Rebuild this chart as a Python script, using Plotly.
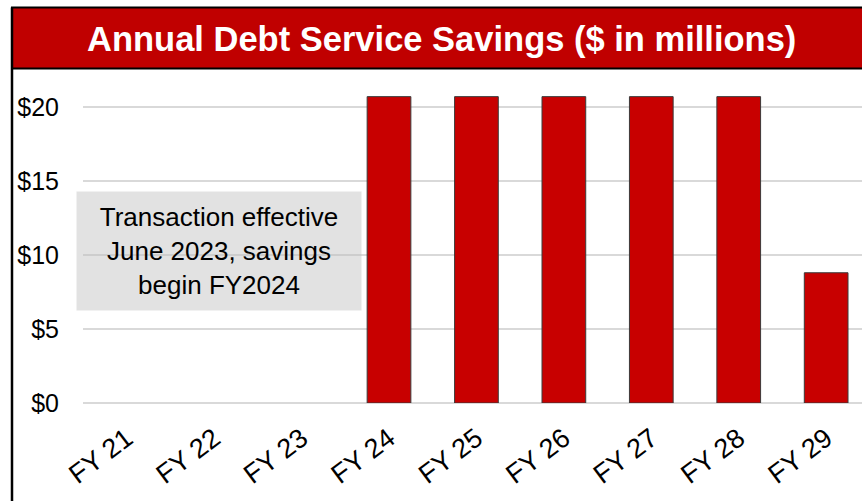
import plotly.graph_objects as go

categories = ["FY 21", "FY 22", "FY 23", "FY 24", "FY 25", "FY 26", "FY 27", "FY 28", "FY 29"]
savings = [0, 0, 0, 20.7, 20.7, 20.7, 20.7, 20.7, 8.8]
y_ticks = [0, 5, 10, 15, 20]
y_tick_labels = ["$0", "$5", "$10", "$15", "$20"]
title_text = "Annual Debt Service Savings ($ in millions)"
note_text = "Transaction effective<br>June 2023, savings<br>begin FY2024"

W, H = 862, 501
ML, MR, MT, MB = 83, 0, 75, 98
PW = W - ML - MR
PH = H - MT - MB


def px(x):
    return (x - ML) / PW


def py(y):
    return (H - MB - y) / PH


line_widths = [1 if v > 0 else 0 for v in savings]

fig = go.Figure()
fig.add_trace(go.Bar(
    x=categories, y=savings, width=0.5,
    marker=dict(color="#C80000", line=dict(color="#3a3a3a", width=line_widths)),
    hoverinfo="x+y",
))

fig.update_layout(
    width=W, height=H,
    margin=dict(l=ML, r=MR, t=MT, b=MB),
    paper_bgcolor="white", plot_bgcolor="white",
    showlegend=False,
    font=dict(family="Liberation Sans, Arial, sans-serif", color="black"),
)
fig.update_xaxes(
    range=[-0.5, 8.41], showgrid=False, zeroline=False, showline=False,
    tickangle=-37, tickfont=dict(size=27), ticks="outside", ticklen=8,
    tickcolor="rgba(0,0,0,0)",
)
fig.update_yaxes(
    range=[0, PH / 14.8], tickvals=y_ticks, ticktext=y_tick_labels,
    showgrid=True, gridcolor="#D9D9D9", gridwidth=1.5,
    zeroline=True, zerolinecolor="#D9D9D9", zerolinewidth=1.5,
    showline=False, tickfont=dict(size=25), ticks="outside", ticklen=18,
    tickcolor="rgba(0,0,0,0)",
)

# banner
fig.add_shape(type="rect", xref="paper", yref="paper",
              x0=px(12), x1=px(W + 5), y0=py(68.5), y1=py(7.5),
              fillcolor="#C00000", line=dict(color="black", width=2), layer="above")
# left frame line
fig.add_shape(type="line", xref="paper", yref="paper",
              x0=px(12), x1=px(12), y0=py(H + 5), y1=py(7.5),
              line=dict(color="black", width=2.5))

fig.add_annotation(xref="paper", yref="paper", x=px(441), y=py(39),
                   text="<b>" + title_text + "</b>", showarrow=False,
                   font=dict(size=34.5, color="white", family="Liberation Sans, Arial, sans-serif"),
                   xanchor="center", yanchor="middle")

fig.add_annotation(xref="paper", yref="paper", x=px(219), y=py(251),
                   text=note_text, showarrow=False, align="center",
                   width=284, height=118, borderpad=0,
                   bgcolor="rgba(190,190,190,0.45)",
                   font=dict(size=26, color="black"),
                   xanchor="center", yanchor="middle")

fig.write_html("out.html")
